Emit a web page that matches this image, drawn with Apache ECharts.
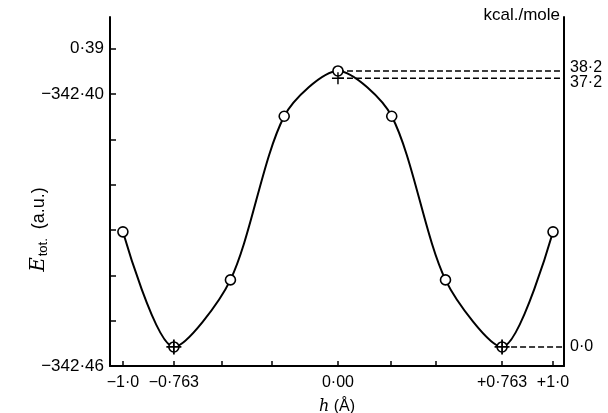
<!DOCTYPE html>
<html>
<head>
<meta charset="utf-8">
<script src="https://cdn.jsdelivr.net/npm/echarts@6/dist/echarts.min.js"></script>
<style>html,body{margin:0;padding:0;background:#fff}#c{width:608px;height:413px}</style>
</head>
<body>
<div id="c"></div>
<script>
// ---- data ----
const hValues = [-1.0, -0.763, -0.5, -0.25, 0.0, 0.25, 0.5, 0.763, 1.0];
const energies = [-342.4304, -342.4558, -342.4410, -342.4049, -342.3949, -342.4049, -342.4410, -342.4558, -342.4304];
const minimaH = [-0.763, 0.763];
const minimaE = [-342.4558, -342.4558];
const plusH = [0.0];
const plusKcal = [37.2];
const kcalLevels = [38.2, 37.2, 0.0];
const kcalLevelStartH = [0.0, 0.0, 0.763];
const kcalLabels = ['38·2', '37·2', '0·0'];
const xTickValues = [-1.0, -0.763, -0.54, -0.31, 0.0, 0.245, 0.455, 0.763, 1.0];
const xLabelValues = [-1.0, -0.763, 0.0, 0.763, 1.0];
const xLabelTexts = ['−1·0', '−0·763', '0·00', '+0·763', '+1·0'];
const yTickValues = [-342.46, -342.45, -342.44, -342.43, -342.42, -342.41, -342.40, -342.39];
const yLabelValues = [-342.46, -342.40, -342.39];
const yLabelTexts = ['−342·46', '−342·40', '0·39'];
const HARTREE_KCAL = 627.51;

// ---- derived ----
const eMin = minimaE[0];
const xMin = -1.06, xMax = 1.051;
const yMin = -342.46, yMax = -342.383;
const toE = k => eMin + k / HARTREE_KCAL;

const curve = hValues.map((h, i) => [h, energies[i]]);
const circles = hValues.map((h, i) => [h, energies[i]]);
const crosses = minimaH.map((h, i) => [h, minimaE[i]]);
const pluses = plusH.map((h, i) => [h, toE(plusKcal[i])]);

const dashSeries = kcalLevels.map((k, i) => ({
  type: 'line', xAxisIndex: 0, yAxisIndex: 0, symbol: 'none', silent: true,
  data: [[kcalLevelStartH[i], toE(k)], [xMax, toE(k)]],
  lineStyle: { color: '#000', width: 1.6, type: [6, 3] }, z: 2
}));

const plusPath = 'path://M-10,-1.2H10V1.2H-10Z M-1.2,-10H1.2V10H-1.2Z';
const FONT = 'Liberation Sans';

function lookup(vals, texts, v) {
  for (let i = 0; i < vals.length; i++) if (Math.abs(vals[i] - v) < 1e-6) return texts[i];
  return '';
}

const rightAxisBase = {
  type: 'value', position: 'right',
  min: (yMin - eMin) * HARTREE_KCAL, max: (yMax - eMin) * HARTREE_KCAL,
  axisTick: { show: false },
  splitLine: { show: false }
};

const chart = echarts.init(document.getElementById('c'), null, { renderer: 'canvas' });
chart.setOption({
  animation: false,
  backgroundColor: '#fff',
  grid: { left: 110, right: 44, top: 17, bottom: 47, containLabel: false, outerBoundsMode: 'none' },
  xAxis: {
    type: 'value', min: xMin, max: xMax,
    name: '{h|h} (Å)', nameLocation: 'middle', nameGap: 33, nameMoveOverlap: false,
    nameTextStyle: { fontFamily: FONT, fontSize: 16, color: '#000',
      rich: { h: { fontFamily: 'DejaVu Serif', fontStyle: 'italic', fontSize: 16, color: '#000' } } },
    axisLine: { onZero: false, lineStyle: { color: '#000', width: 2 } },
    axisTick: { show: true, inside: true, length: 5, lineStyle: { color: '#000', width: 1.5 }, customValues: xTickValues },
    axisLabel: { customValues: xLabelValues, margin: 9, fontFamily: FONT, fontSize: 16, color: '#000',
      formatter: v => lookup(xLabelValues, xLabelTexts, v) },
    splitLine: { show: false }
  },
  yAxis: [{
    type: 'value', min: yMin, max: yMax, position: 'left',
    name: '{e|E}{s|tot.} (a.u.)', nameLocation: 'middle', nameGap: 60, nameRotate: 90, nameMoveOverlap: false,
    nameTextStyle: { fontFamily: FONT, fontSize: 18, color: '#000', padding: [0, 76, 0, 0],
      rich: {
        e: { fontFamily: 'DejaVu Serif', fontStyle: 'italic', fontSize: 20, color: '#000' },
        s: { fontFamily: FONT, fontSize: 13, color: '#000', verticalAlign: 'bottom', padding: [9, 4, 0, 1] }
      } },
    axisLine: { show: true, onZero: false, lineStyle: { color: '#000', width: 2 } },
    axisTick: { show: true, inside: true, length: 6, lineStyle: { color: '#000', width: 1.5 }, customValues: yTickValues },
    axisLabel: { customValues: yLabelValues, margin: 6, fontFamily: FONT, fontSize: 17, color: '#000', hideOverlap: false,
      formatter: v => lookup(yLabelValues, yLabelTexts, v) },
    splitLine: { show: false }
  }, Object.assign({}, rightAxisBase, {
    name: 'kcal./mole', nameLocation: 'end', nameGap: -7, nameMoveOverlap: false,
    nameTextStyle: { fontFamily: FONT, fontSize: 17, color: '#000', align: 'right', verticalAlign: 'bottom', padding: [0, 4, 0, 0] },
    axisLine: { show: true, onZero: false, lineStyle: { color: '#000', width: 2 } },
    axisLabel: { customValues: [kcalLevels[1], kcalLevels[2]], margin: 6, fontFamily: FONT, fontSize: 16, color: '#000', hideOverlap: false,
      formatter: v => {
        const t = lookup(kcalLevels, kcalLabels, v);
        return Math.abs(v - kcalLevels[1]) < 1e-6 ? '{dn|' + t + '}' : t;
      },
      rich: { dn: { fontFamily: FONT, fontSize: 16, color: '#000', padding: [8, 0, 0, 0] } } }
  }), Object.assign({}, rightAxisBase, {
    axisLine: { show: false, onZero: false },
    axisLabel: { customValues: [kcalLevels[0]], margin: 6, fontFamily: FONT, fontSize: 16, color: '#000', hideOverlap: false,
      formatter: v => '{up|' + lookup(kcalLevels, kcalLabels, v) + '}',
      rich: { up: { fontFamily: FONT, fontSize: 16, color: '#000', padding: [0, 0, 7, 0] } } }
  })],
  series: [
    { type: 'line', data: curve, smooth: 0.28, symbol: 'none', silent: true,
      lineStyle: { color: '#000', width: 2 }, z: 3 },
    ...dashSeries,
    { type: 'scatter', data: circles, symbol: 'circle', symbolSize: 10,
      itemStyle: { color: '#fff', borderColor: '#000', borderWidth: 1.6, opacity: 1 }, z: 5 },
    { type: 'scatter', data: crosses, symbol: plusPath, symbolSize: 15,
      itemStyle: { color: '#000', opacity: 1 }, z: 6 },
    { type: 'scatter', data: pluses, symbol: plusPath, symbolSize: 12,
      itemStyle: { color: '#000', opacity: 1 }, z: 6 }
  ]
});
</script>
</body>
</html>
